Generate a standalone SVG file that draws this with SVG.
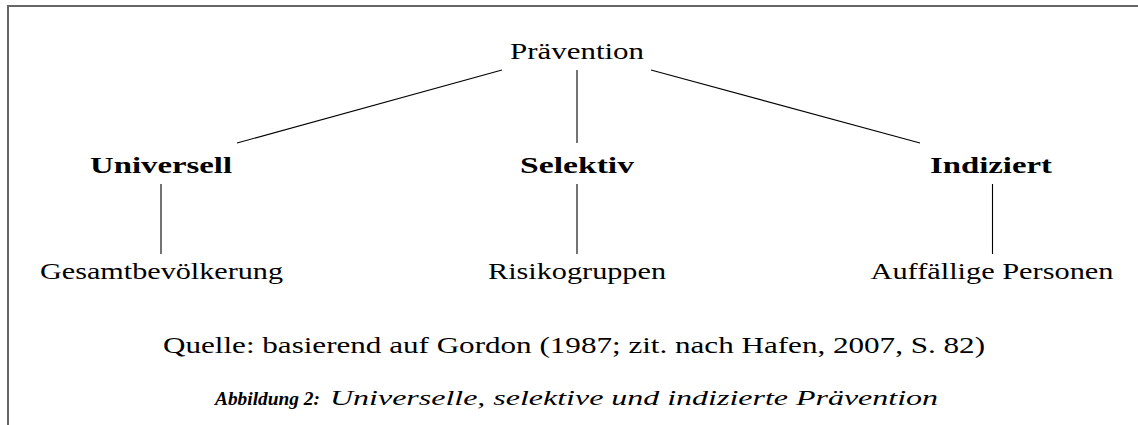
<svg xmlns="http://www.w3.org/2000/svg" width="1138" height="425" viewBox="0 0 1138 425">
<style>
text{font-family:"Liberation Serif","Times New Roman",serif;fill:#000;font-size:24px}
.b{font-weight:bold}
.cap{font-size:20px;font-style:italic}
.capb{font-size:18px;font-style:italic;font-weight:bold}
.edge{stroke:#000;stroke-width:1.1;fill:none}
.frame{stroke:#666;stroke-width:2;fill:none}
</style>
<rect width="1138" height="425" fill="#fff"/>
<path class="frame" d="M8,425 V6 H1138"/>
<g id="connectors">
<line class="edge" x1="502" y1="70" x2="237" y2="143"/>
<line class="edge" x1="577" y1="70" x2="577" y2="143"/>
<line class="edge" x1="651" y1="70" x2="920" y2="143"/>
<line class="edge" x1="161" y1="184" x2="161" y2="254"/>
<line class="edge" x1="577" y1="184" x2="577" y2="254"/>
<line class="edge" x1="992.5" y1="184" x2="992.5" y2="254"/>
</g>
<g id="praevention"><text x="577" y="59" text-anchor="middle" textLength="134" lengthAdjust="spacingAndGlyphs">Prävention</text></g>
<g id="universell"><text class="b" x="161" y="173" text-anchor="middle" textLength="142" lengthAdjust="spacingAndGlyphs">Universell</text></g>
<g id="selektiv"><text class="b" x="577" y="173" text-anchor="middle" textLength="114" lengthAdjust="spacingAndGlyphs">Selektiv</text></g>
<g id="indiziert"><text class="b" x="991" y="173" text-anchor="middle" textLength="122" lengthAdjust="spacingAndGlyphs">Indiziert</text></g>
<g id="gesamt"><text x="161.5" y="279" text-anchor="middle" textLength="243" lengthAdjust="spacingAndGlyphs">Gesamtbevölkerung</text></g>
<g id="risiko"><text x="577" y="279" text-anchor="middle" textLength="178" lengthAdjust="spacingAndGlyphs">Risikogruppen</text></g>
<g id="auffaellig"><text x="992" y="279" text-anchor="middle" textLength="243" lengthAdjust="spacingAndGlyphs">Auffällige Personen</text></g>
<text x="163" y="353" textLength="822" lengthAdjust="spacingAndGlyphs">Quelle: basierend auf Gordon (1987; zit. nach Hafen, 2007, S. 82)</text>
<text class="capb" x="215" y="405" textLength="105" lengthAdjust="spacingAndGlyphs">Abbildung 2:</text>
<text class="cap" x="330" y="405" textLength="608" lengthAdjust="spacingAndGlyphs">Universelle, selektive und indizierte Prävention</text>
</svg>
